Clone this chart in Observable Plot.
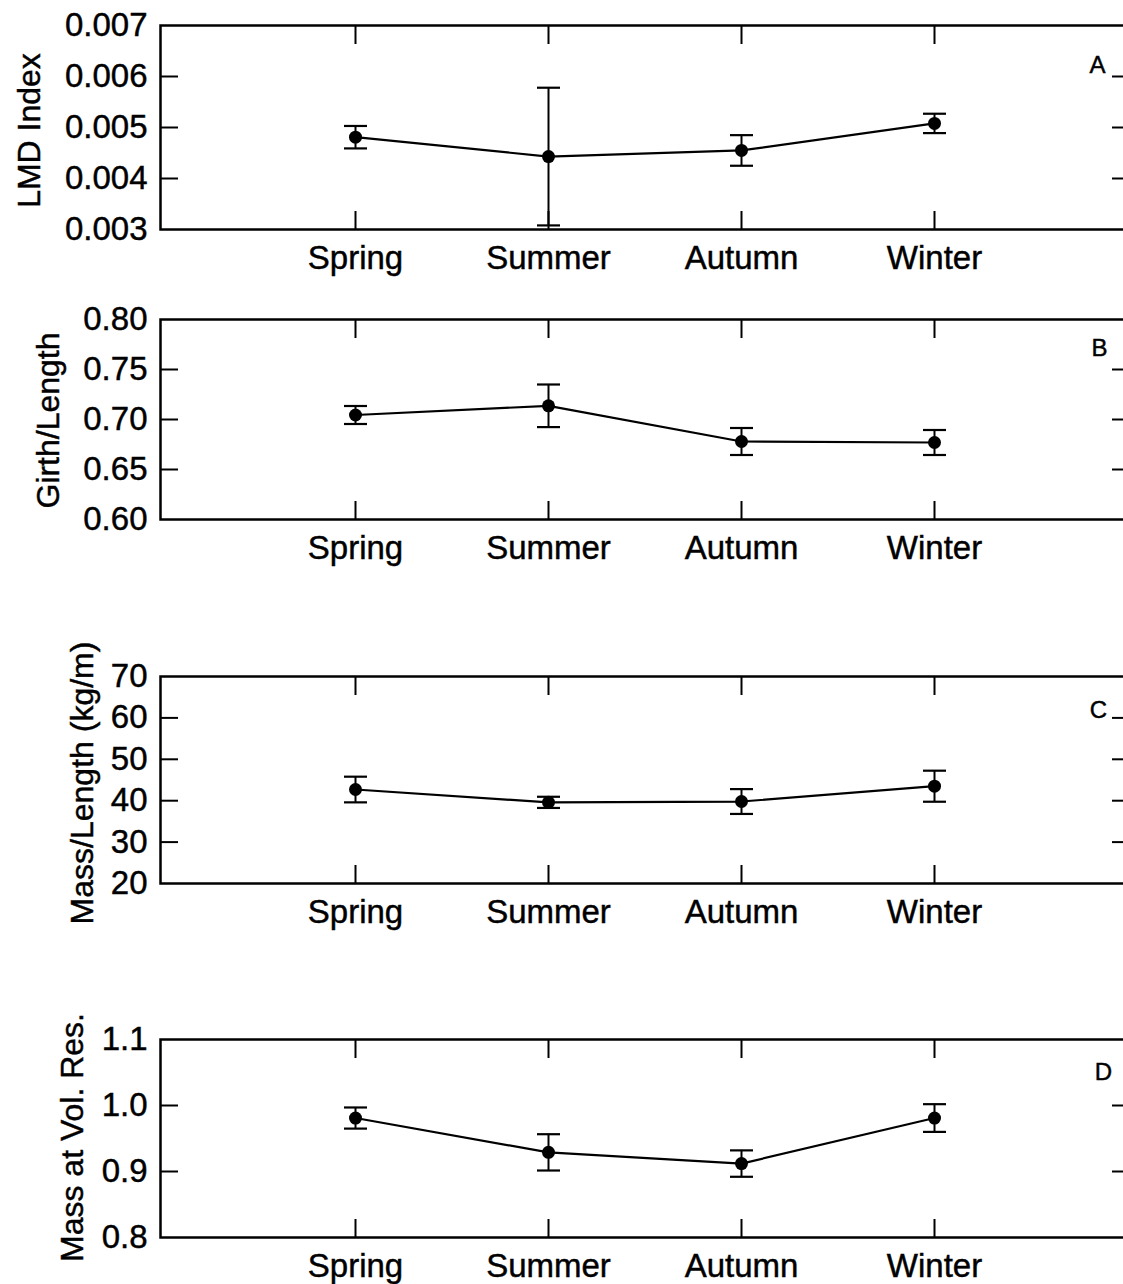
<!DOCTYPE html>
<html>
<head>
<meta charset="utf-8">
<script src="https://cdn.jsdelivr.net/npm/d3@7"></script>
<script src="https://cdn.jsdelivr.net/npm/@observablehq/plot@0.6"></script>
<style>
html, body { margin: 0; padding: 0; background: #fff; overflow: hidden; }
#wrap { position: relative; width: 1123px; height: 1284px; overflow: hidden; background: #fff; }
.panel { position: absolute; left: 0; }
.panel svg { max-width: none !important; }
.panel svg text { stroke: #000; stroke-width: 0.45px; }
</style>
</head>
<body>
<div id="wrap"></div>
<script>
// ---- Data ----
const seasons = ["Spring", "Summer", "Autumn", "Winter"];

const lmdMean = [0.00481, 0.00443, 0.00455, 0.00508];
const lmdErr  = [0.00022, 0.00135, 0.00030, 0.00019];
const lmdTicks = [0.003, 0.004, 0.005, 0.006, 0.007];

const girthMean = [0.7045, 0.7137, 0.678, 0.677];
const girthErr  = [0.009, 0.0213, 0.0135, 0.0125];
const girthTicks = [0.60, 0.65, 0.70, 0.75, 0.80];

const massLenMean = [42.7, 39.6, 39.8, 43.5];
const massLenErr  = [3.1, 1.35, 3.0, 3.75];
const massLenTicks = [20, 30, 40, 50, 60, 70];

const massVolMean = [0.981, 0.929, 0.912, 0.981];
const massVolErr  = [0.016, 0.0275, 0.020, 0.021];
const massVolTicks = [0.8, 0.9, 1.0, 1.1];

// ---- Panels ----
const panels = [
  {title: "LMD Index", letter: "A", mean: lmdMean, err: lmdErr, ticks: lmdTicks, fmt: ".3f",
   top: 25, bottom: 229, titleDx: -131, titleDy: 3, letterDx: -32, letterDy: 30},
  {title: "Girth/Length", letter: "B", mean: girthMean, err: girthErr, ticks: girthTicks, fmt: ".2f",
   top: 319, bottom: 519, titleDx: -112, titleDy: 1, letterDx: -30, letterDy: 19},
  {title: "Mass/Length (kg/m)", letter: "C", mean: massLenMean, err: massLenErr, ticks: massLenTicks, fmt: "d",
   top: 676, bottom: 883, titleDx: -78, titleDy: 3, letterDx: -31, letterDy: 24},
  {title: "Mass at Vol. Res.", letter: "D", mean: massVolMean, err: massVolErr, ticks: massVolTicks, fmt: ".1f",
   top: 1039, bottom: 1237, titleDx: -88, titleDy: -1, letterDx: -26, letterDy: 23}
];

const W = 1140;            // wider than the page: right frame edge falls just off-picture
const frameRight = 1129;
const mTop = 20, mBottom = 60;
const font = "'Liberation Sans', Arial, Helvetica, sans-serif";

// horizontal cap for error bars (custom symbol)
const capSymbol = {
  draw(ctx, size) {
    const w = Math.sqrt(size / Math.PI);
    ctx.moveTo(-w, 0);
    ctx.lineTo(w, 0);
  }
};

const wrap = document.getElementById("wrap");

for (const p of panels) {
  const rows = seasons.map((s, i) => ({
    season: s, mean: p.mean[i], lo: p.mean[i] - p.err[i], hi: p.mean[i] + p.err[i]
  }));
  const inner = p.ticks.slice(1, -1);
  const chart = Plot.plot({
    width: W,
    height: mTop + (p.bottom - p.top) + mBottom,
    marginLeft: 160,
    marginRight: W - frameRight,
    marginTop: mTop,
    marginBottom: mBottom,
    style: {fontSize: "33px", fontFamily: font, color: "#000", background: "transparent", overflow: "visible", maxWidth: "none"},
    x: {type: "point", domain: seasons, padding: 1},
    y: {domain: [p.ticks[0], p.ticks[p.ticks.length - 1]]},
    marks: [
      Plot.frame({strokeWidth: 2.5}),
      // tick labels
      Plot.axisY({ticks: p.ticks, tickSize: 0, tickPadding: 13, tickFormat: d3.format(p.fmt), label: null}),
      Plot.axisX({anchor: "bottom", tickSize: 0, tickPadding: 16, label: null}),
      // inward tick marks
      Plot.axisY({anchor: "left", ticks: inner, tickSize: -18, tickFormat: () => "", strokeWidth: 2, label: null}),
      Plot.axisY({anchor: "right", ticks: inner, tickSize: -18, tickFormat: () => "", strokeWidth: 2, label: null}),
      Plot.axisX({anchor: "bottom", tickSize: -18, tickFormat: () => "", strokeWidth: 2, label: null}),
      Plot.axisX({anchor: "top", tickSize: -18, tickFormat: () => "", strokeWidth: 2, label: null}),
      // error bars
      Plot.ruleX(rows, {x: "season", y1: "lo", y2: "hi", stroke: "#000", strokeWidth: 2}),
      Plot.dot(rows, {x: "season", y: "hi", symbol: capSymbol, r: 11.5, fill: "none", stroke: "#000", strokeWidth: 2.2}),
      Plot.dot(rows, {x: "season", y: "lo", symbol: capSymbol, r: 11.5, fill: "none", stroke: "#000", strokeWidth: 2.2}),
      // mean line and points
      Plot.line(rows, {x: "season", y: "mean", stroke: "#000", strokeWidth: 2.2}),
      Plot.dot(rows, {x: "season", y: "mean", r: 6.5, fill: "#000", stroke: "none"}),
      // y title
      Plot.text([p.title], {frameAnchor: "left", rotate: -90, dx: p.titleDx, dy: p.titleDy,
        fontSize: 32, textAnchor: "middle", fill: "#000"}),
      // panel letter
      Plot.text([p.letter], {frameAnchor: "top-right", dx: p.letterDx, dy: p.letterDy,
        fontSize: 24, textAnchor: "middle", fill: "#000"})
    ]
  });
  const div = document.createElement("div");
  div.className = "panel";
  div.style.top = (p.top - mTop) + "px";
  div.appendChild(chart);
  wrap.appendChild(div);
}
</script>
</body>
</html>
